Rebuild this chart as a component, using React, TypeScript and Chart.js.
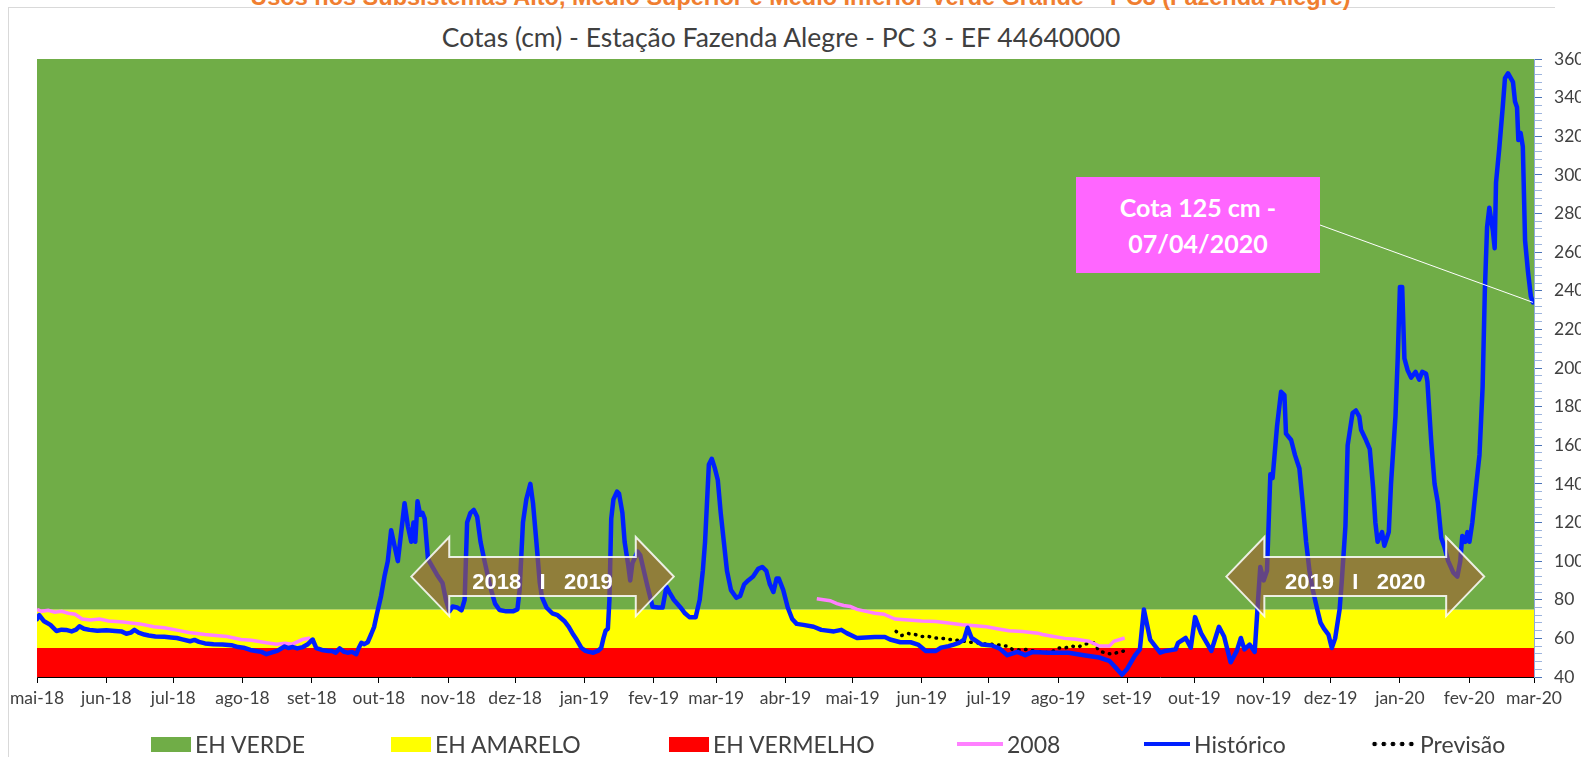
import { useEffect, useRef } from 'react';
import { Chart, registerables } from 'chart.js';

Chart.register(...registerables);

// ---- Axis / categories ----
const monthLabels = ['mai-18', 'jun-18', 'jul-18', 'ago-18', 'set-18', 'out-18', 'nov-18', 'dez-18', 'jan-19', 'fev-19', 'mar-19', 'abr-19', 'mai-19', 'jun-19', 'jul-19', 'ago-19', 'set-19', 'out-19', 'nov-19', 'dez-19', 'jan-20', 'fev-20', 'mar-20'];
// days since 01/05/2018 for each month start
const monthDays = [0, 31, 61, 92, 123, 153, 184, 214, 245, 276, 304, 335, 365, 396, 426, 457, 488, 518, 549, 579, 610, 641, 670];

// ---- Bands (cm) ----
const limiteVermelho = 55;
const limiteAmarelo = 75;
const limiteVerde = 360;

// ---- Series: [day, cota cm] ----
const historico: [number, number][] = [
  [0, 70], [1, 72], [3, 69], [6, 67], [8.7, 63.8], [11, 64.5], [13, 64.4], [15.5, 63.6], [17.5, 64.5], [19, 66.3], [21, 65], [23.5, 64.4], [27, 64], [31, 64.2], [35, 63.8], [38, 63.5], [40, 62.4], [42, 63], [43.6, 64.4], [45.5, 63], [48, 62], [50, 61.5], [53, 61], [57, 60.8], [60, 60.5], [62.6, 60.2], [65, 59.5], [68.5, 58.5], [70.5, 59.2], [72.5, 58.2], [75.2, 57.4], [79, 57], [83, 56.8], [87, 56.5], [90, 55.5], [92.4, 55.2], [95.5, 54], [98, 53.5], [100.5, 53], [102.7, 51.8], [104.5, 52.5], [107.5, 53.5], [110.8, 55.8], [112.5, 55], [114.5, 55.5], [116.5, 54.8], [119, 55.5], [121, 56.8], [122.5, 58.5], [123.4, 59.4], [125, 55], [127.5, 54], [130.5, 53.5], [132, 53.5], [133.7, 52.6], [135.5, 54.8], [137.5, 53], [139, 52.6], [141, 53], [142.9, 51.8], [144, 55], [145.2, 57.7], [146.5, 57], [148, 58], [149.5, 62], [150.9, 66],
  [152, 72], [154, 82], [155.5, 92], [157, 100], [158.5, 116], [160, 108], [161.5, 100], [163, 115], [164.5, 130], [166, 118], [167.5, 110], [168.5, 120], [169.3, 110], [170.3, 131], [171.5, 124], [172.5, 125], [173.5, 122], [175, 101], [177, 97], [179, 93], [181.5, 88.7], [183, 80], [184.6, 74], [186, 76.5], [188, 76], [190, 74.5], [191.4, 80], [192.5, 120], [194, 125], [195.5, 126.5], [197, 123], [198.5, 110], [200.3, 100], [203, 86], [205, 78], [207, 74.7], [210, 74], [213, 74], [215, 75], [216, 85], [217.5, 120], [219, 132], [220.8, 140], [222, 130], [223.5, 110], [225, 89], [226, 81.4], [228, 76], [230.6, 73], [233, 72], [236, 69], [238, 66], [240, 62], [241.5, 59.4], [243.7, 55], [245.5, 53.5], [247, 53], [249, 52.6], [251, 53.5], [252.5, 55], [253.5, 60], [254.5, 64], [255.5, 65], [256.2, 80], [257, 122], [258, 132], [259.6, 136], [260.5, 135], [262, 125], [263, 110], [264.6, 98], [265.5, 90], [266.5, 99], [268.8, 105], [270, 103], [271, 98], [273, 88], [275.5, 76.4], [278, 76], [280, 76], [281.7, 86.8], [283, 84], [285, 80], [288, 76], [290, 73], [292, 71], [294.8, 71], [296.6, 80], [298, 95], [299, 110], [300.7, 150], [302, 153], [303.4, 148], [304.7, 142], [306, 125], [307.4, 110], [308.8, 95], [310.6, 85], [313, 81], [314.7, 82], [316.5, 88], [318.3, 90], [320.5, 92], [322.8, 96], [324.6, 97], [326.4, 95], [328, 88], [329.6, 84], [331, 91], [332, 91], [334, 85], [336, 76], [338, 70], [340, 67.5], [343, 67], [347.6, 66], [351, 64.4], [356.7, 63.6], [360, 64.4], [362.4, 62.7], [367, 60.2], [375, 60.7], [379.5, 60.7], [381.8, 59.4], [386.4, 58], [391, 58], [394.3, 56.8], [397.8, 53.5], [402.3, 53.5], [404.6, 55.2], [408, 56], [410.3, 56.8], [412.6, 57.7], [414.9, 59.4], [416.5, 65.5], [418.3, 60.2], [422.9, 56.8], [427.4, 56.3], [430.9, 54.7], [434.3, 51.3], [438.8, 53], [442.3, 51.3], [445.7, 53], [452.5, 52.6], [461.7, 52.6], [468.5, 51.3], [475.4, 50.1], [479.9, 48.4], [483.3, 44.2], [485.6, 41.2], [487.9, 44.2], [491.3, 51], [493.6, 54.3], [495.4, 75], [498.2, 59.4], [502.7, 52.6], [505, 53.5], [509.6, 54.3], [510.7, 57.7], [514.1, 60.2], [516.4, 55.2], [518.3, 71], [521, 62.7], [525.6, 53.5], [529, 66], [531.3, 61], [534.2, 47.6], [537, 53.5], [538.8, 60.2], [540.4, 54.3], [542.7, 56.8], [545, 53],
  [546.5, 80], [547.5, 97], [549, 90], [550.5, 95], [552, 145], [553, 143], [555, 170], [556.8, 187.7], [558.3, 186], [559, 166], [561.3, 162.7], [563, 155], [565, 148], [566.5, 130], [568, 110], [569.5, 95], [571, 85], [573, 75], [574.5, 68], [576, 65], [578, 62], [579.5, 55], [581, 60], [583, 75], [584, 90], [585.6, 118], [586.6, 160], [588.8, 176.7], [590.3, 178], [591.8, 174.8], [592.6, 168], [594.8, 162.7], [596.5, 158], [598, 138], [599, 120], [600, 110], [602, 115], [603, 108], [605, 115], [606, 140], [608, 175], [609, 205], [610, 242], [611, 242], [612, 205], [613.4, 199], [615, 195], [617, 198], [618.6, 194], [620, 198], [621.7, 197], [622.3, 193], [623, 180], [624, 162], [625.5, 140], [627, 130], [628.5, 112], [630, 107], [631.6, 100], [633.9, 94], [635.7, 92], [637, 100], [637.9, 113], [639.3, 110], [640.2, 115], [641.1, 110], [642.4, 120], [644.2, 140], [645.6, 155], [647, 190], [648, 240], [649, 273], [650, 283], [651.6, 271], [652.4, 262], [653, 296], [654.4, 313], [656, 335], [657, 350], [658.4, 352.6], [660.6, 348], [661.5, 338], [662.4, 335], [663, 318], [664, 321.7], [665, 314.6], [666, 266], [667.3, 250], [668.6, 237], [669.5, 234],
];

const ano2008Parte1: [number, number][] = [
  [0, 75], [2, 74], [5, 74.5], [8, 73.5], [11, 74], [14, 73], [17, 72.5], [20.2, 70], [24, 69.5], [28, 70], [32, 69], [38.5, 68.5], [42, 68], [46, 67.5], [52.3, 66], [57, 65.5], [63.7, 64], [68, 63], [75.2, 62], [80, 61.5], [85, 61], [91.3, 59.4], [96, 59], [102.7, 57.7], [107.3, 57], [111, 57.5], [114.2, 57], [118.8, 59.4], [122.2, 60.2],
];
const ano2008Parte2: [number, number][] = [
  [349, 80.5], [352, 80], [355, 79.5], [358, 78], [361, 77], [364, 76.5], [367, 75], [371, 74], [375, 73], [379, 72.5], [384, 70], [390, 69.5], [396, 69], [402.3, 68.7], [408, 68], [414, 67], [420, 66.5], [425, 66], [429.7, 65], [435, 64], [441, 63.5], [448, 62.7], [450, 62], [455, 61], [460, 60], [465, 59.5], [470.8, 58.5], [475.4, 56], [479.9, 56], [482, 58.5], [486.8, 60.2],
];

const previsao: [number, number][] = [
  [384.5, 63.6], [387, 61.5], [390, 62.5], [393, 62], [396, 61], [399, 61], [402, 60.2], [405, 60], [409, 59.4], [412, 59], [415, 58.5], [418, 58], [420.6, 57.7], [425, 57], [428, 57], [431, 56.5], [434, 56], [436.6, 54.3], [440, 54], [443, 54.3], [446, 53.5], [449, 53], [452.5, 52.6], [455, 53.5], [457, 55], [460, 55], [463, 56], [466, 55.5], [469, 57], [471, 57.5], [473, 57.7], [475.4, 53.5], [478, 52.5], [481, 51.8], [484.5, 53], [486.8, 53.5], [489, 53],
];

// ---- Annotations (in data units) ----
const arrowStartDays = [167.5, 532.3];
const arrowEndDays = [285, 647.7];
const arrowLevel = 92;
const arrowLabels = ['2018   I   2019', '2019   I   2020'];

const pts = (a: [number, number][]) => a.map(([x, y]) => ({ x, y }));

const annotationPlugin = {
  id: 'annotations',
  afterDatasetsDraw(chart: any) {
    const { ctx } = chart;
    const xs = chart.scales.x;
    const ys = chart.scales.y;
    ctx.save();
    const yc = ys.getPixelForValue(arrowLevel);
    const hh = 39.5;
    const bh = 19.5;
    const hl = 38;
    arrowStartDays.forEach((d0, i) => {
      const x0 = xs.getPixelForValue(d0);
      const x1 = xs.getPixelForValue(arrowEndDays[i]);
      ctx.beginPath();
      ctx.moveTo(x0, yc);
      ctx.lineTo(x0 + hl, yc - hh);
      ctx.lineTo(x0 + hl, yc - bh);
      ctx.lineTo(x1 - hl, yc - bh);
      ctx.lineTo(x1 - hl, yc - hh);
      ctx.lineTo(x1, yc);
      ctx.lineTo(x1 - hl, yc + hh);
      ctx.lineTo(x1 - hl, yc + bh);
      ctx.lineTo(x0 + hl, yc + bh);
      ctx.lineTo(x0 + hl, yc + hh);
      ctx.closePath();
      ctx.fillStyle = 'rgba(165, 95, 50, 0.6)';
      ctx.fill();
      ctx.strokeStyle = 'rgba(255,255,255,0.85)';
      ctx.lineWidth = 2;
      ctx.lineJoin = 'miter';
      ctx.stroke();
      ctx.fillStyle = '#ffffff';
      ctx.font = 'bold 22px "Liberation Sans", Arial, sans-serif';
      ctx.textAlign = 'center';
      ctx.textBaseline = 'middle';
      ctx.fillText(arrowLabels[i], (x0 + x1) / 2, yc + 6);
    });
    const last = historico[historico.length - 1];
    ctx.beginPath();
    ctx.moveTo(1320, 225);
    ctx.lineTo(xs.getPixelForValue(last[0]), ys.getPixelForValue(last[1]));
    ctx.strokeStyle = '#ffffff';
    ctx.lineWidth = 1;
    ctx.stroke();
    ctx.restore();
  },
};

const tickFont = { family: 'Lato', size: 17.5 };
const textColor = '#404040';

export default function App() {
  const ref = useRef<HTMLCanvasElement>(null);

  useEffect(() => {
    const canvas = ref.current;
    if (!canvas) return;
    const data2008: any[] = [...pts(ano2008Parte1), { x: 200, y: null }, ...pts(ano2008Parte2)];
    const xMin = monthDays[0];
    const xMax = monthDays[monthDays.length - 1];
    const chart = new Chart(canvas, {
      type: 'line',
      data: {
        datasets: [
          { label: 'Histórico', data: pts(historico), borderColor: '#0020FF', borderWidth: 4.5, pointRadius: 0, tension: 0, fill: false, order: 0, borderJoinStyle: 'round', borderCapStyle: 'round' } as any,
          { label: '2008', data: data2008, borderColor: '#FF80FF', borderWidth: 3.5, pointRadius: 0, tension: 0, fill: false, order: 1, spanGaps: false } as any,
          { label: 'Previsão', data: pts(previsao), borderColor: '#000000', borderWidth: 3.5, borderDash: [0.5, 6.5], borderCapStyle: 'round', pointRadius: 0, tension: 0, fill: false, order: 2 } as any,
          { label: 'EH VERMELHO', data: [{ x: xMin, y: limiteVermelho }, { x: xMax, y: limiteVermelho }], borderWidth: 0, borderColor: 'rgba(0,0,0,0)', pointRadius: 0, backgroundColor: '#FF0000', fill: 'start', order: 5 } as any,
          { label: 'EH AMARELO', data: [{ x: xMin, y: limiteAmarelo }, { x: xMax, y: limiteAmarelo }], borderWidth: 0, borderColor: 'rgba(0,0,0,0)', pointRadius: 0, backgroundColor: '#FFFF00', fill: 3, order: 4 } as any,
          { label: 'EH VERDE', data: [{ x: xMin, y: limiteVerde }, { x: xMax, y: limiteVerde }], borderWidth: 0, borderColor: 'rgba(0,0,0,0)', pointRadius: 0, backgroundColor: '#70AD47', fill: 4, order: 3 } as any,
        ],
      },
      options: {
        responsive: false,
        maintainAspectRatio: false,
        animation: false,
        devicePixelRatio: 1,
        events: [],
        layout: { padding: { left: 37, top: 59, right: 0, bottom: 0 } },
        plugins: { legend: { display: false }, title: { display: false }, tooltip: { enabled: false } },
        scales: {
          x: {
            type: 'linear',
            min: xMin,
            max: xMax,
            afterBuildTicks: (s: any) => { s.ticks = monthDays.map((v) => ({ value: v })); },
            afterFit: (s: any) => { s.height = 80; },
            ticks: {
              autoSkip: false, maxRotation: 0, minRotation: 0, padding: 5, color: textColor, font: tickFont,
              callback: (v: any) => monthLabels[monthDays.indexOf(Number(v))] ?? '',
            },
            grid: { drawOnChartArea: false, drawTicks: true, tickLength: 6, tickColor: '#000000', lineWidth: 1 },
            border: { display: true, color: '#000000', width: 1 },
          },
          y: {
            type: 'linear',
            position: 'right',
            min: 40,
            max: 360,
            afterFit: (s: any) => { s.width = 66; },
            ticks: {
              stepSize: 4, autoSkip: false, padding: 12, color: textColor, font: tickFont,
              callback: (v: any) => (Number(v) % 20 === 0 ? String(v) : ''),
            },
            grid: {
              drawOnChartArea: false, tickLength: 8, lineWidth: 1,
              tickColor: (c: any) => (c.tick && c.tick.value % 20 === 0 ? '#4A73B8' : '#9DB4DD'),
            },
            border: { display: true, color: '#8FAADC', width: 1 },
          },
          yl: {
            type: 'linear',
            position: 'left',
            min: 40,
            max: 360,
            afterFit: (s: any) => { s.width = 0; },
            ticks: { display: false },
            grid: { drawOnChartArea: false, drawTicks: false },
            border: { display: true, color: '#262626', width: 1 },
          },
        } as any,
      },
      plugins: [annotationPlugin],
    });
    return () => chart.destroy();
  }, []);

  const legendFont = { fontFamily: 'Lato', fontSize: 23, color: textColor, lineHeight: '24px', whiteSpace: 'nowrap' as const };
  const legendItems = [
    { label: 'EH VERDE', left: 151, marker: { width: 40, height: 15, background: '#70AD47' } },
    { label: 'EH AMARELO', left: 391, marker: { width: 40, height: 15, background: '#FFFF00' } },
    { label: 'EH VERMELHO', left: 669, marker: { width: 40, height: 15, background: '#FF0000' } },
    { label: '2008', left: 957, marker: { width: 46, height: 4, background: '#FF80FF' } },
    { label: 'Histórico', left: 1144, marker: { width: 46, height: 4.5, background: '#0020FF' } },
    { label: 'Previsão', left: 1370, marker: { width: 46, height: 6, backgroundImage: 'radial-gradient(circle, #000 2px, transparent 2.6px)', backgroundSize: '9.2px 6px' } },
  ];

  return (
    <div style={{ position: 'absolute', left: 0, top: 0, width: 1581, height: 757, overflow: 'hidden', background: '#ffffff' }}>
      <div style={{ position: 'absolute', left: 8, top: 7, width: 1546, height: 760, borderLeft: '1px solid #D9D9D9', borderTop: '1px solid #D9D9D9' }} />
      <div style={{ position: 'absolute', left: 0, top: -15, width: 1601, textAlign: 'center', fontFamily: '"Liberation Sans", Arial, sans-serif', fontWeight: 'bold', fontSize: 23.5, lineHeight: '24px', color: '#F07E30', whiteSpace: 'nowrap' }}>
        Usos nos Subsistemas Alto, Médio Superior e Médio Inferior Verde Grande – PC3 (Fazenda Alegre)
      </div>
      <div style={{ position: 'absolute', left: 8, top: 21, width: 1546, textAlign: 'center', fontFamily: 'Lato', fontSize: 26.5, lineHeight: '32px', color: textColor, whiteSpace: 'nowrap' }}>
        Cotas (cm) - Estação Fazenda Alegre - PC 3 - EF 44640000
      </div>
      <canvas ref={ref} width={1600} height={757} style={{ position: 'absolute', left: 0, top: 0, width: 1600, height: 757 }} />
      <div style={{ position: 'absolute', left: 1076, top: 177, width: 244, height: 96, boxSizing: 'border-box', paddingTop: 12, background: '#FF66FF', color: '#ffffff', fontFamily: 'Lato', fontWeight: 'bold', fontSize: 25, lineHeight: '36px', textAlign: 'center' }}>
        <div>Cota 125 cm -</div>
        <div>07/04/2020</div>
      </div>
      {legendItems.map((it) => (
        <div key={it.label} style={{ position: 'absolute', left: it.left, top: 732, height: 24, display: 'flex', alignItems: 'center', gap: 4 }}>
          <div style={{ flex: 'none', ...it.marker }} />
          <span style={legendFont}>{it.label}</span>
        </div>
      ))}
    </div>
  );
}
